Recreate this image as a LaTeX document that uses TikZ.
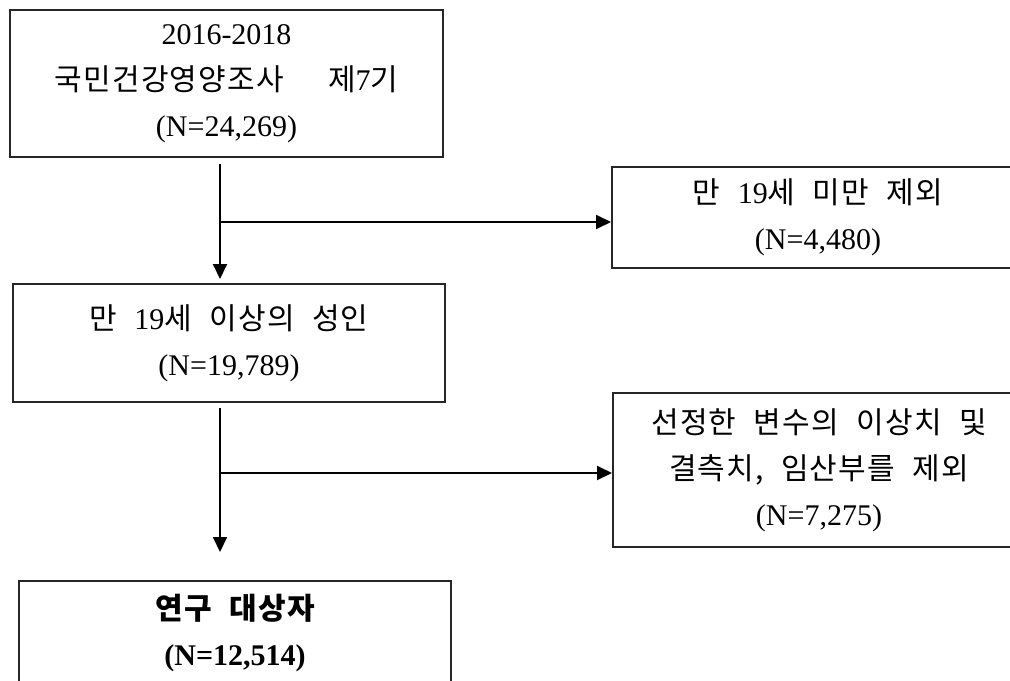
\documentclass[tikz,border=0pt]{standalone}
\usepackage{fontspec}
\setmainfont{Liberation Serif}
\newfontfamily\krfont[Scale=1.0,LetterSpace=4,WordSpace=2.2]{Noto Sans CJK KR}
\usetikzlibrary{arrows.meta}

\begin{document}
\begin{tikzpicture}[x=0.75pt,y=-0.75pt,line width=1.5pt,>={Triangle[width=10.5pt,length=11.25pt]},
		flowbox/.style={draw=black!85,rectangle,align=center,inner sep=0pt,
			font=\fontsize{22.5}{34.5}\selectfont}]
	\useasboundingbox (0,0) rectangle (1010,681);

	\node [flowbox,minimum width=433*0.75pt,minimum height=147*0.75pt] (survey) at (226.5,83.5)
		{2016-2018\\{\krfont 국민건강영양조사\hspace{20pt} 제}7{\krfont 기}\\(N=24,269)};
	\node [flowbox,minimum width=412*0.75pt,minimum height=101*0.75pt] (excl-age) at (818,217.5)
		{{\krfont 만 }19{\krfont 세 미만 제외}\\(N=4,480)};
	\node [flowbox,minimum width=432*0.75pt,minimum height=118*0.75pt] (adult) at (229,343)
		{{\krfont 만 }19{\krfont 세 이상의 성인}\\(N=19,789)};
	\node [flowbox,minimum width=412*0.75pt,minimum height=154*0.75pt] (excl-miss) at (819,470)
		{{\krfont 선정한 변수의 이상치 및}\\{\krfont 결측치, 임산부를 제외}\\(N=7,275)};
	\node [flowbox,minimum width=432*0.75pt,minimum height=104*0.75pt,font=\fontsize{22.5}{34.5}\selectfont\bfseries] (study) at (235,633)
		{{\krfont 연구 대상자}\\(N=12,514)};

	\coordinate (split-1) at (220,222);
	\coordinate (split-2) at (220,473);

	\draw [->,shorten <=4.5pt,shorten >=3pt] (survey.south -| split-1) -- (adult.north -| split-1);
	\draw [->] (split-1) -- (split-1 -| excl-age.west);
	\draw [->,shorten <=3.75pt,shorten >=21pt] (adult.south -| split-2) -- (study.north -| split-2);
	\draw [->] (split-2) -- (split-2 -| excl-miss.west);
\end{tikzpicture}
\end{document}
